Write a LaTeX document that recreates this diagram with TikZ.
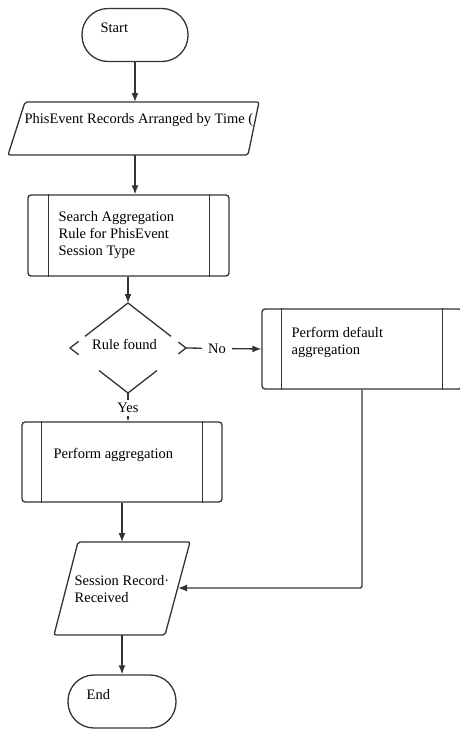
\documentclass[tikz,border=0pt]{standalone}
\usepackage{fontspec}
\setmainfont{Liberation Serif}
\usetikzlibrary{arrows.meta,calc}
\begin{document}
\begin{tikzpicture}[x=1pt,y=-1pt,
  line width=1.3pt, draw=black!80,
  every node/.style={draw=black!80},
  txt/.style={draw=none, font=\fontsize{14.5}{17}\selectfont, inner sep=0pt, align=left, text=black},
  term/.style={draw, rounded corners=26pt, minimum width=#1, minimum height=53pt, inner sep=0pt},
  proc/.style={draw, rounded corners=3pt, inner sep=0pt},
  arr/.style={-{Latex[length=9pt,width=7pt]}},
  smallarr/.style={-{Latex[length=4pt,width=3pt]}},
  lbl/.style={draw=none, fill=white, font=\fontsize{14.5}{17}\selectfont, inner sep=1pt, text=black}]
\useasboundingbox (0,0) rectangle (459,729);

% Start
\node[term=106pt] (start) at (135,35) {};
\node[txt, anchor=west] (tstart) at (100,28) {Start};

% Parallelogram 1
\draw[rounded corners=2pt] (25,102) -- (259,102) -- (248,155) -- (8,155) -- cycle;
\coordinate (p1n) at (135,102);
\coordinate (p1s) at (135,155);
\node[txt, anchor=west] (tp1) at (24,120) {PhisEvent Records Arranged by Time (};

% Search box
\node[proc, minimum width=201pt, minimum height=81pt] (search) at (128.5,235.5) {};
\draw ([xshift=21pt]search.north west) -- ([xshift=21pt]search.south west);
\draw ([xshift=-20pt]search.north east) -- ([xshift=-20pt]search.south east);
\node[txt, anchor=west] (tsearch) at (58,235) {Search Aggregation\\Rule for PhisEvent\\Session Type};

% Diamond (broken outline)
\coordinate (dT) at (128,303);
\coordinate (dR) at (186,348);
\coordinate (dB) at (128,393);
\coordinate (dL) at (70,348);
\draw ($(dT)!0.74!(dL)$) -- (dT) -- ($(dT)!0.74!(dR)$);
\draw ($(dL)!0.15!(dT)$) -- (dL) -- ($(dL)!0.15!(dB)$);
\draw ($(dR)!0.13!(dT)$) -- (dR) -- ($(dR)!0.13!(dB)$);
\draw ($(dB)!0.5!(dL)$) -- (dB) -- ($(dB)!0.5!(dR)$);
\node[txt] (trule) at (124.5,344) {Rule found};

% Default aggregation box
\node[proc, minimum width=200pt, minimum height=80pt] (default) at (362,349) {};
\draw ([xshift=20pt]default.north west) -- ([xshift=20pt]default.south west);
\draw ([xshift=-20pt]default.north east) -- ([xshift=-20pt]default.south east);
\node[txt, anchor=west] (tdefault) at (291,342.5) {Perform default\\aggregation};

% Perform aggregation box
\node[proc, minimum width=200pt, minimum height=80pt] (agg) at (122,462) {};
\draw ([xshift=20pt]agg.north west) -- ([xshift=20pt]agg.south west);
\draw ([xshift=-20pt]agg.north east) -- ([xshift=-20pt]agg.south east);
\node[txt, anchor=west] (tagg) at (53,455) {Perform aggregation};

% Session parallelogram
\draw[rounded corners=2pt] (78,542) -- (190,542) -- (165,635) -- (54,635) -- cycle;
\coordinate (p2n) at (122,542);
\coordinate (p2s) at (122,635);
\coordinate (p2e) at (178,588);
\node[txt, anchor=west] (tsession) at (74,589) {Session Record·\\Received};

% End
\node[term=108pt] (end) at (122,701.5) {};
\node[txt, anchor=west] (tend) at (86,695) {End};

% Connectors
\draw[arr] (start) -- (p1n);
\draw[arr] (p1s) -- (p1s |- search.north);
\draw[arr] (dT |- search.south) -- (dT);
\draw[arr] (dR) -- node[lbl, pos=0.41, inner xsep=6pt] (no) {No} (default.west);
\draw[smallarr] (dB) -- node[lbl, pos=0.52, inner ysep=3pt] (yes) {Yes} (dB |- agg.north);
\draw[arr] (agg.south) -- (p2n);
\draw[arr, rounded corners=2pt] (default.south) -- (default.south |- p2e) -- (p2e);
\draw[arr] (p2s) -- (end.north);
\end{tikzpicture}
\end{document}
